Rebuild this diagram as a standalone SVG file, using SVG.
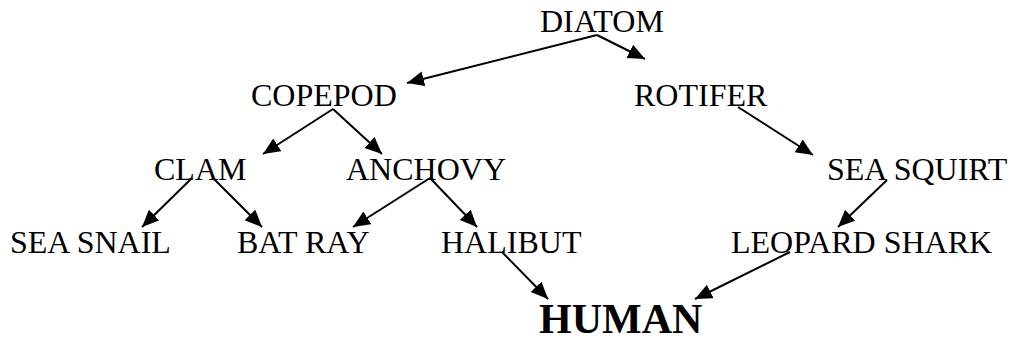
<svg xmlns="http://www.w3.org/2000/svg" width="1013" height="342" viewBox="0 0 1013 342">
<style>
text{font-family:"Liberation Serif","Times New Roman",serif;font-size:32px;fill:#000}
.b{font-weight:bold;font-size:42px}
.e line{stroke:#000;stroke-width:2;marker-end:url(#ah)}
</style>
<defs>
<marker id="ah" markerUnits="userSpaceOnUse" markerWidth="18" markerHeight="16" refX="17" refY="7.5" orient="auto">
<path d="M0,0 L17,7.5 L0,15 Z" fill="#000"/>
</marker>
</defs>
<rect width="1013" height="342" fill="#fff"/>
<g id="n-diatom"><text x="540" y="32">DIATOM</text></g>
<g id="n-copepod"><text x="251" y="106">COPEPOD</text></g>
<g id="n-rotifer"><text x="634" y="106">ROTIFER</text></g>
<g id="n-clam"><text x="154" y="180">CLAM</text></g>
<g id="n-anchovy"><text x="346" y="180">ANCHOVY</text></g>
<g id="n-seasquirt"><text x="827" y="180">SEA SQUIRT</text></g>
<g id="n-seasnail"><text x="10" y="253">SEA SNAIL</text></g>
<g id="n-batray"><text x="237" y="253">BAT RAY</text></g>
<g id="n-halibut"><text x="441" y="253">HALIBUT</text></g>
<g id="n-leopardshark"><text x="731" y="253">LEOPARD SHARK</text></g>
<g id="n-human"><text class="b" x="539" y="333">HUMAN</text></g>
<g id="connectors" class="e">
<line x1="597" y1="35" x2="407" y2="83"/>
<line x1="597" y1="35" x2="645" y2="59"/>
<line x1="333" y1="109" x2="263" y2="154"/>
<line x1="333" y1="109" x2="382" y2="154"/>
<line x1="738" y1="107" x2="813" y2="155"/>
<line x1="192" y1="178" x2="142" y2="227"/>
<line x1="213" y1="178" x2="262" y2="227"/>
<line x1="430" y1="178" x2="353" y2="227"/>
<line x1="430" y1="178" x2="477" y2="227"/>
<line x1="887" y1="180" x2="838" y2="227"/>
<line x1="502" y1="252" x2="548" y2="299"/>
<line x1="790" y1="252" x2="695" y2="299"/>
</g>
</svg>
